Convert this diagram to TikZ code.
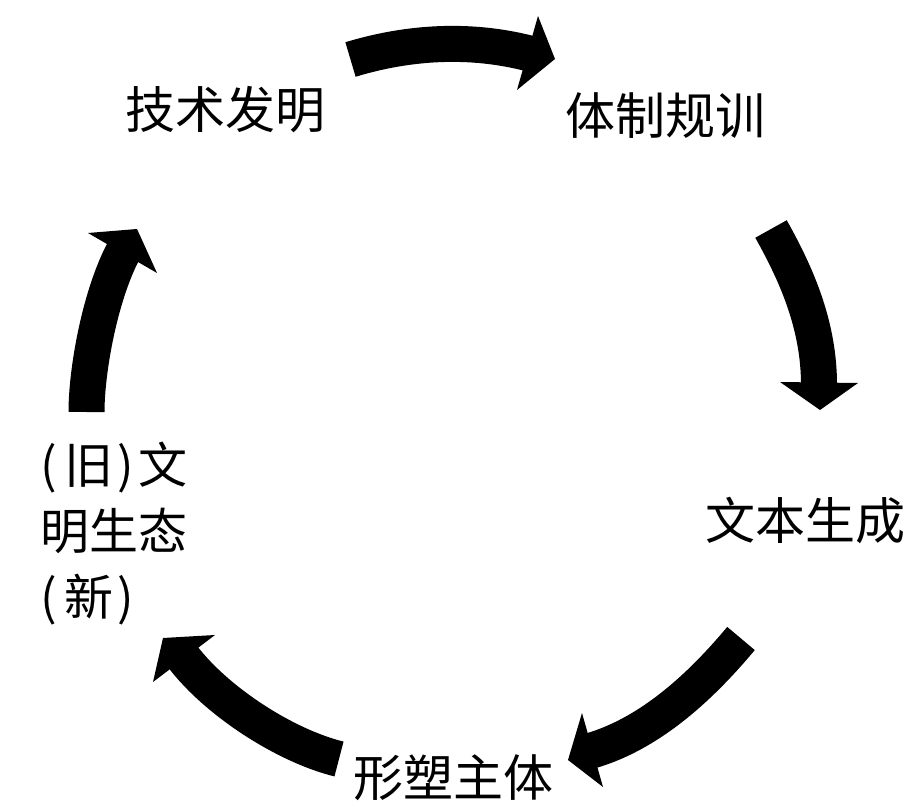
\documentclass[tikz,border=0pt]{standalone}
\usepackage{fontspec}
\newfontfamily\cjk{Noto Sans CJK SC}
\begin{document}
\begin{tikzpicture}[x=1pt,y=-1pt,
  lbl/.style={font=\cjk\fontsize{50}{60}\selectfont, inner sep=0pt, text=black},
  shaft/.style={line width=36pt, draw=black, shorten >=-3pt},
  head/.style={fill=black}]
\useasboundingbox (0,0) rectangle (910,802);
\fill[white] (0,0) rectangle (910,802);

% labels
\node[lbl] (jishu)  at (225.5,109.5) {技术发明};
\node[lbl] (tizhi)  at (665.5,115.5) {体制规训};
\node[lbl] (wenben) at (805.5,520.5) {文本生成};
\node[lbl] (xingsu) at (453,778)     {形塑主体};
\node[lbl, align=left, anchor=north west, font=\cjk\fontsize{49}{66}\selectfont] (wenming) at (40,442)
  {\makebox[0.5em][l]{(}旧\makebox[0.5em]{)}文\\明生态\\\makebox[0.5em][l]{(}新\makebox[0.5em]{)}};

% arrow 1: 技术发明 -> 体制规训
\coordinate (a1s) at (350.5,59.5);
\coordinate (a1b) at (527.5,53);
\coordinate (a1l) at (538,16);
\coordinate (a1r) at (517,90);
\coordinate (a1t) at (555,59);
\draw[shaft] (a1s) .. controls (408,42) and (470,38) .. (a1b);
\fill[head] (a1l) -- (a1t) -- (a1r) -- cycle;

% arrow 2: 体制规训 -> 文本生成
\coordinate (a2s) at (771,229);
\coordinate (a2b) at (819,382);
\coordinate (a2l) at (780,382);
\coordinate (a2r) at (858,383);
\coordinate (a2t) at (820,410);
\draw[shaft] (a2s) .. controls (798,277) and (819,327) .. (a2b);
\fill[head] (a2l) -- (a2t) -- (a2r) -- cycle;

% arrow 3: 文本生成 -> 形塑主体
\coordinate (a3s) at (741,638.5);
\coordinate (a3b) at (593.5,750);
\coordinate (a3l) at (582,713);
\coordinate (a3r) at (603,787);
\coordinate (a3t) at (568,760);
\draw[shaft] (a3s) .. controls (703,684) and (652,733) .. (a3b);
\fill[head] (a3l) -- (a3t) -- (a3r) -- cycle;

% arrow 4: 形塑主体 -> 文明生态
\coordinate (a4s) at (339,759);
\coordinate (a4b) at (184,658.5);
\coordinate (a4l) at (215,635);
\coordinate (a4r) at (153,682);
\coordinate (a4t) at (163,638);
\draw[shaft] (a4s) .. controls (286,746) and (217,702) .. (a4b);
\fill[head] (a4l) -- (a4t) -- (a4r) -- cycle;

% arrow 5: 文明生态 -> 技术发明
\coordinate (a5s) at (86.5,412);
\coordinate (a5b) at (122.5,253);
\coordinate (a5l) at (88,233);
\coordinate (a5r) at (157,273);
\coordinate (a5t) at (137,229);
\draw[shaft] (a5s) .. controls (86.5,370) and (100,295) .. (a5b);
\fill[head] (a5l) -- (a5t) -- (a5r) -- cycle;
\end{tikzpicture}
\end{document}
